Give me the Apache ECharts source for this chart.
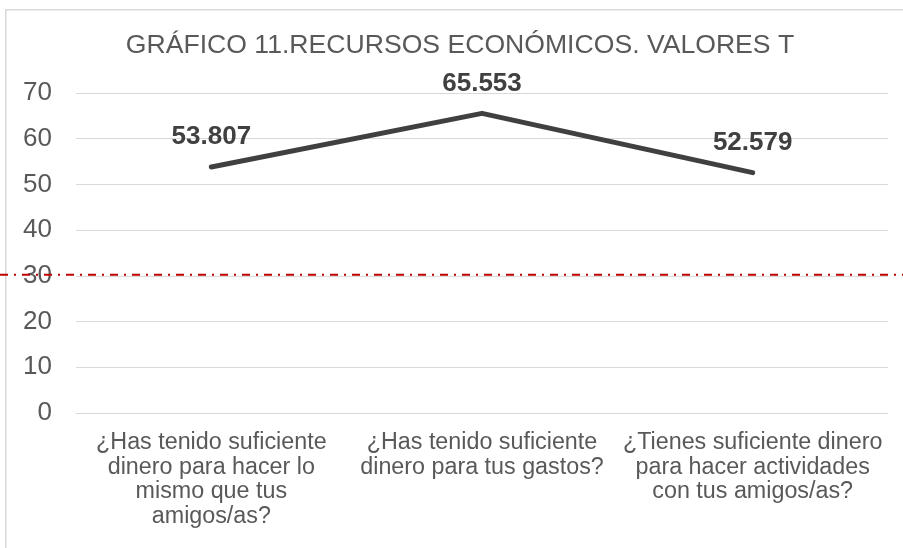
<!DOCTYPE html>
<html>
<head>
<meta charset="utf-8">
<script src="https://cdn.jsdelivr.net/npm/echarts@6/dist/echarts.min.js"></script>
<style>
html,body{margin:0;padding:0;background:#fff;}
#c{width:903px;height:548px;}
</style>
</head>
<body>
<div id="c"></div>
<script>
const titleText = 'GRÁFICO 11.RECURSOS ECONÓMICOS. VALORES T';
const categories = [
  '¿Has tenido suficiente\ndinero para hacer lo\nmismo que tus\namigos/as?',
  '¿Has tenido suficiente\ndinero para tus gastos?',
  '¿Tienes suficiente dinero\npara hacer actividades\ncon tus amigos/as?'
];
const values = [53.807, 65.553, 52.579];
const yMin = 0;
const yMax = 70;
const yStep = 10;
const threshold = 30;

const FONT = '"Liberation Sans", Arial, sans-serif';
const chart = echarts.init(document.getElementById('c'), null, {renderer: 'canvas'});

chart.setOption({
  animation: false,
  backgroundColor: '#ffffff',
  textStyle: {fontFamily: FONT},
  title: {
    text: titleText,
    left: 460,
    top: 31,
    padding: 0,
    textAlign: 'center',
    textStyle: {fontFamily: FONT, fontSize: 26.6, fontWeight: 'normal', color: '#595959', lineHeight: 30}
  },
  grid: {left: 76, right: 15, top: 93, bottom: 135, containLabel: false, outerBoundsMode: 'none'},
  xAxis: {
    type: 'category',
    data: categories,
    boundaryGap: true,
    axisLine: {show: true, lineStyle: {color: '#d9d9d9', width: 1}},
    axisTick: {show: false},
    axisLabel: {interval: 0, margin: 17, fontFamily: FONT, fontSize: 23.3, lineHeight: 24.8, color: '#595959', align: 'center'},
    splitLine: {show: false}
  },
  yAxis: {
    type: 'value',
    min: yMin, max: yMax, interval: yStep,
    axisLine: {show: false},
    axisTick: {show: false},
    axisLabel: {margin: 24, fontFamily: FONT, fontSize: 26, color: '#595959'},
    splitLine: {show: true, lineStyle: {color: '#d9d9d9', width: 1}}
  },
  series: [{
    type: 'line',
    data: values,
    symbol: 'circle',
    symbolSize: 2,
    itemStyle: {color: '#404040'},
    lineStyle: {color: '#404040', width: 5, cap: 'round', join: 'round'},
    label: {
      show: true,
      position: 'top',
      distance: 16,
      fontFamily: FONT,
      fontSize: 26,
      fontWeight: 'bold',
      color: '#404040',
      formatter: p => p.value.toFixed(3)
    },
    z: 3
  }]
});

const yPx = chart.convertToPixel({yAxisIndex: 0}, threshold);
chart.setOption({
  graphic: [
    {
      id: 'frame', type: 'rect', silent: true, z: 0,
      shape: {x: 5.75, y: 9.75, width: 1200, height: 1200},
      style: {fill: 'none', stroke: '#d9d9d9', lineWidth: 1.5}
    },
    {
      id: 'threshold', type: 'line', silent: true, z: 10,
      shape: {x1: 0, y1: yPx - 1, x2: 903, y2: yPx - 1},
      style: {stroke: '#c00000', lineWidth: 2, lineDash: [8, 6, 2, 6]}
    }
  ]
});
</script>
</body>
</html>
